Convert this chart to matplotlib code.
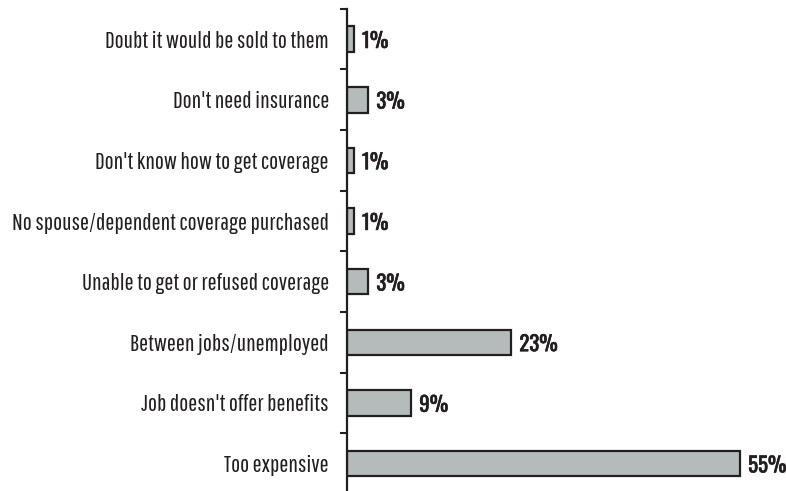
import matplotlib
matplotlib.use('Agg')
import matplotlib.pyplot as plt
import matplotlib.patheffects as pe
from matplotlib import font_manager

reasons = ['Doubt it would be sold to them', "Don't need insurance", "Don't know how to get coverage",
           'No spouse/dependent coverage purchased', 'Unable to get or refused coverage',
           'Between jobs/unemployed', "Job doesn't offer benefits", 'Too expensive']
shares = [1, 3, 1, 1, 3, 23, 9, 55]

# 窄体字体：按顺序取第一个装了的
names = {f.name for f in font_manager.fontManager.ttflist}


def pick(cands):
    for c in cands:
        if c in names:
            return c
    return 'DejaVu Sans'


label_font = pick(['Pathway Gothic One', 'Roboto Condensed', 'Archivo Narrow', 'PT Sans Narrow',
                   'Barlow Condensed', 'Oswald', 'Liberation Sans Narrow'])
pct_font = pick(['Oswald', 'Roboto Condensed', 'Barlow Condensed', 'Archivo Narrow', 'PT Sans Narrow'])

fig = plt.figure(figsize=(7.86, 4.91), dpi=100)
ax = fig.add_axes([347 / 786, -0.006, 439 / 786, 0.988])

y = list(range(len(reasons)))
ax.barh(y, shares, height=0.42, color='#b5bbbb', edgecolor='#231f20', linewidth=1.6, zorder=2)
ax.set_ylim(len(reasons) - 0.5, -0.5)
ax.set_xlim(0, 439 / 7.15)

# 百分比加一点描边，显得更粗
for yi, v in zip(y, shares):
    ax.text(v + 1.1, yi + 0.03, f'{v}%', va='center', ha='left', fontsize=15,
            fontweight='bold', family=pct_font, color='#231f20',
            path_effects=[pe.withStroke(linewidth=0.45, foreground='#231f20')])

ax.set_yticks([i - 0.5 for i in range(len(reasons))])
ax.set_yticklabels([])
ax.set_yticks(y, minor=True)
ax.set_yticklabels(reasons, minor=True, family=label_font, fontsize=17.3, color='#231f20')
ax.tick_params(axis='y', which='major', length=5, width=1.5, color='#231f20')
ax.tick_params(axis='y', which='minor', length=0, pad=13)
ax.set_xticks([])
for s in ['top', 'right', 'bottom']:
    ax.spines[s].set_visible(False)
ax.spines['left'].set_linewidth(1.6)
ax.spines['left'].set_color('#231f20')

fig.savefig('out.png', dpi=100)
